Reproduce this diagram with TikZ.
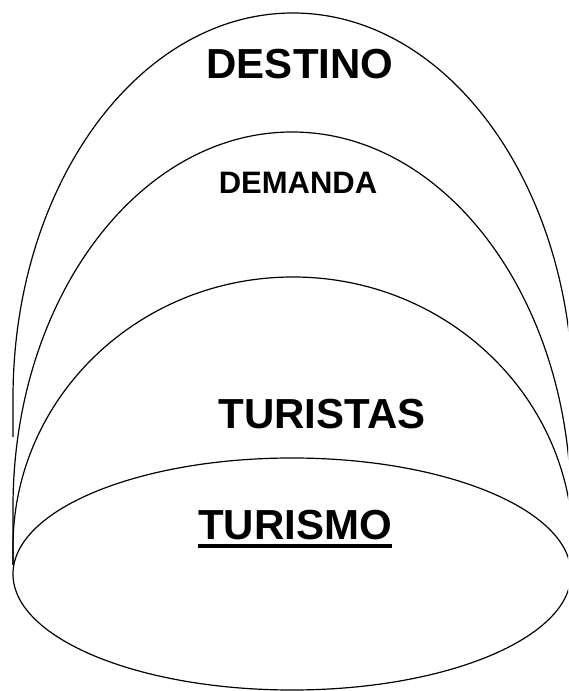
\documentclass[tikz,border=0pt]{standalone}
\usepackage{fontspec}
\setmainfont{Liberation Sans}
\usepackage{tikz}
\usetikzlibrary{positioning,calc}

\begin{document}
\begin{tikzpicture}[x=1pt, y=1pt, line width=1.2pt, every node/.style={font=\bfseries, inner sep=0pt, anchor=base}]
				\useasboundingbox (0,0) rectangle (568,691);
				\clip (0,0) rectangle (568,691);
				
				\draw (13,254) -- (13,293) arc[start angle=180, end angle=0, x radius=280pt, y radius=385pt];
				\draw (13,126) -- (13,184) arc[start angle=180, end angle=0, x radius=279pt, y radius=375pt];
				\draw (13,126) -- (13,144) arc[start angle=180, end angle=0, x radius=280pt, y radius=270pt];
				\draw (292,117) ellipse[x radius=279pt, y radius=116pt];
				
				\node[font=\bfseries\fontsize{42}{50}\selectfont] (dest) at (300,612) {DESTINO};
				\node[font=\bfseries\fontsize{31}{37}\selectfont] (dema) at (298,497) {DEMANDA};
				\node[font=\bfseries\fontsize{42}{50}\selectfont] (turi) at (322,262) {TURISTAS};
				\node[font=\bfseries\fontsize{42}{50}\selectfont] (tusm) at (295,151) {TURISMO};
				\draw[line width=3.5pt] ([yshift=-6pt]tusm.base west) -- ([yshift=-6pt]tusm.base east);
			\end{tikzpicture}
\end{document}
